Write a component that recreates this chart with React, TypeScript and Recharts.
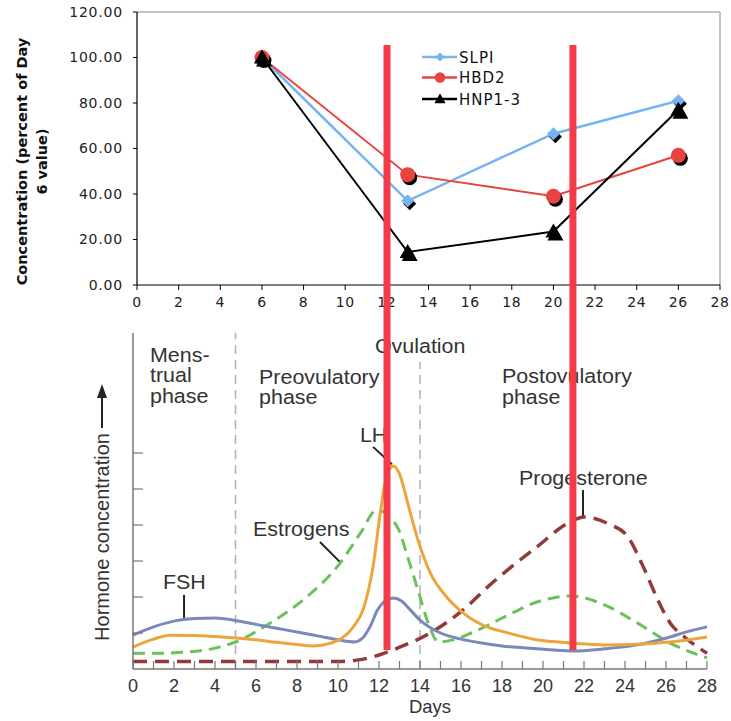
import React from 'react';
import { LineChart, Line, XAxis, YAxis, ReferenceLine, ReferenceDot, Legend } from 'recharts';

// ---------- Top chart: antimicrobial concentrations ----------
const sampleDays = [6, 13, 20, 26];
const slpiValues = [100, 37, 66.5, 81];
const hbd2Values = [100, 48.5, 39, 57];
const hnpValues = [100, 14.5, 23.5, 77];
const topDayTicks = [0, 2, 4, 6, 8, 10, 12, 14, 16, 18, 20, 22, 24, 26, 28];
const concentrationTicks = [0, 20, 40, 60, 80, 100, 120];
const seriesNames = ['SLPI', 'HBD2', 'HNP1-3'];
const seriesKeys = ['slpi', 'hbd2', 'hnp'];
const seriesColors = ['#76b4f1', '#e9423f', '#000000'];
const seriesMarkers = ['diamond', 'circle', 'triangle'];

// ---------- Bottom chart: hormone curves (relative units) ----------
const fshDays = [0, 1, 2, 3, 4, 5, 6, 7, 8, 9, 10, 10.8, 11.2, 11.6, 11.9, 12.3, 12.7, 13.1, 13.4, 14, 15, 16, 17, 18, 19.7, 21.4, 23, 24.6, 26.2, 27, 28];
const fshValues = [0.94, 1.17, 1.33, 1.4, 1.42, 1.35, 1.24, 1.13, 1.03, 0.92, 0.81, 0.75, 0.86, 1.22, 1.61, 1.89, 1.97, 1.89, 1.72, 1.36, 1.0, 0.83, 0.72, 0.64, 0.56, 0.5, 0.56, 0.67, 0.89, 1.03, 1.17];
const lhDays = [0, 1, 1.8, 3, 4, 5, 6, 7, 8, 8.8, 9.6, 10.2, 10.75, 11.25, 11.7, 12.07, 12.3, 12.7, 13.0, 13.4, 13.9, 14.5, 15.3, 16.1, 17.4, 18.1, 19.7, 21.4, 23, 24.6, 26.2, 28];
const lhValues = [0.61, 0.83, 0.94, 0.93, 0.9, 0.86, 0.81, 0.74, 0.68, 0.64, 0.71, 0.86, 1.17, 1.69, 2.81, 4.36, 5.19, 5.64, 5.42, 4.61, 3.58, 2.67, 2.0, 1.56, 1.14, 1.03, 0.81, 0.72, 0.67, 0.69, 0.75, 0.89];
const estrogenDays = [0, 1.3, 2.6, 4, 5, 6.7, 8.3, 10.1, 11.1, 11.9, 12.9, 13.4, 13.9, 14.4, 14.9, 15.6, 16.5, 18.1, 19.7, 21.4, 23, 24.6, 26.2, 28];
const estrogenValues = [0.44, 0.44, 0.47, 0.58, 0.75, 1.28, 1.92, 2.94, 3.78, 4.42, 3.94, 3.11, 2.19, 1.28, 0.75, 0.81, 1.0, 1.44, 1.86, 2.03, 1.78, 1.28, 0.72, 0.31];
const progesteroneDays = [0, 2, 4, 6, 8, 10, 11.1, 12, 12.9, 14.5, 16.1, 17.4, 18.1, 19.7, 21.3, 22, 23.2, 24.1, 24.9, 25.6, 26.2, 26.9, 28];
const progesteroneValues = [0.21, 0.21, 0.21, 0.21, 0.21, 0.21, 0.26, 0.39, 0.58, 1.0, 1.64, 2.33, 2.67, 3.39, 4.08, 4.22, 4.03, 3.7, 2.83, 1.92, 1.28, 0.89, 0.44];
const cycleDayTicks = Array.from({ length: 29 }, (_, i) => i);
const hormoneTicks = [1, 2, 3, 4, 5, 6];
const phaseBoundaryDays = [5, 14];
const redMarkerDays = [12.39, 21.46];

const phaseLabels = [
  { day: 0.83, level: 8.53, lines: ['Mens-', 'trual', 'phase'] },
  { day: 6.15, level: 7.92, lines: ['Preovulatory', 'phase'] },
  { day: 11.8, level: 8.78, lines: ['Ovulation'] },
  { day: 18.0, level: 7.94, lines: ['Postovulatory', 'phase'] },
];
const hormoneLabels = [
  { day: 11.07, level: 6.31, text: 'LH' },
  { day: 18.83, level: 5.11, text: 'Progesterone' },
  { day: 5.85, level: 3.69, text: 'Estrogens' },
  { day: 1.46, level: 2.22, text: 'FSH' },
];
const leaderLines = [
  [11.71, 6.17, 12.63, 5.69],
  [9.12, 3.53, 10.15, 2.94],
  [2.49, 2.06, 2.49, 1.42],
  [21.95, 4.97, 21.95, 4.22],
];

const topData = sampleDays.map((d, i) => ({ day: d, slpi: slpiValues[i], hbd2: hbd2Values[i], hnp: hnpValues[i] }));
const toSeries = (days: number[], vals: number[]) => days.map((d, i) => ({ day: d, v: vals[i] }));

const SANS = 'Liberation Sans, Arial, sans-serif';
const VERD = 'DejaVu Sans, Verdana, sans-serif';

function markerShape(kind: string, cx: number, cy: number, fill: string, big: boolean) {
  const s = big ? 1 : 0.7;
  if (kind === 'diamond') {
    const r = 6.5 * s;
    return <polygon points={`${cx},${cy - r} ${cx + r},${cy} ${cx},${cy + r} ${cx - r},${cy}`} fill={fill} />;
  }
  if (kind === 'circle') {
    return <circle cx={cx} cy={cy} r={7.5 * s} fill={fill} />;
  }
  return <polygon points={`${cx},${cy - 8 * s} ${cx + 8 * s},${cy + 6 * s} ${cx - 8 * s},${cy + 6 * s}`} fill={fill} />;
}

const makeDot = (kind: string, color: string) => (props: any) => {
  const { cx, cy, index } = props;
  if (cx == null || cy == null) return <g key={`e-${index}`} />;
  return (
    <g key={`${kind}-${index}`}>
      {markerShape(kind, cx + 2, cy + 3, '#000', true)}
      {markerShape(kind, cx, cy, color, true)}
    </g>
  );
};

const TopLegend = () => (
  <svg width={140} height={70}>
    {seriesNames.map((name, i) => {
      const y = 10 + i * 20.5 + (i === 2 ? 1 : 0);
      return (
        <g key={name}>
          <line x1={2} x2={37} y1={y} y2={y} stroke={seriesColors[i]} strokeWidth={2.5} />
          {markerShape(seriesMarkers[i], 20, y, seriesColors[i], false)}
          <text x={39} y={y + 5.5} fontFamily={VERD} fontSize={15} letterSpacing={1} fill="#111">{name}</text>
        </g>
      );
    })}
  </svg>
);

const ConcTitle = (props: any) => {
  const vb = props.viewBox || { x: 0, y: 12, width: 137, height: 273 };
  const cy = vb.y + vb.height / 2 + 13;
  return (
    <g fontFamily={VERD} fontWeight="bold" fontSize={14.5} fill="#111">
      <text transform={`translate(${vb.x + 22},${cy}) rotate(-90)`} textAnchor="middle" dominantBaseline="central">Concentration (percent of Day</text>
      <text transform={`translate(${vb.x + 42},${cy}) rotate(-90)`} textAnchor="middle" dominantBaseline="central">6 value)</text>
    </g>
  );
};

const HormoneTitle = (props: any) => {
  const vb = props.viewBox || { x: 0, y: 333, width: 133, height: 336 };
  const cx = vb.x + vb.width - 31;
  const top = vb.y;
  return (
    <g>
      <line x1={cx} y1={top + 95} x2={cx} y2={top + 62} stroke="#222" strokeWidth={2} />
      <path d={`M${cx - 5},${top + 65} L${cx},${top + 51} L${cx + 5},${top + 65} Z`} fill="#222" />
      <text transform={`translate(${cx},${top + vb.height / 2 + 36}) rotate(-90)`} textAnchor="middle" dominantBaseline="central" fontFamily={SANS} fontSize={20} fill="#333">Hormone concentration</text>
    </g>
  );
};

const DaysTitle = (props: any) => {
  const vb = props.viewBox || { x: 133, y: 669, width: 574, height: 52 };
  return (
    <text x={vb.x + vb.width / 2 + 10} y={vb.y + 44} textAnchor="middle" fontFamily={SANS} fontSize={18.5} fill="#333">Days</text>
  );
};

const DayTick = (props: any) => {
  const { x, y, payload } = props;
  if (payload.value % 2 !== 0) return <g />;
  return (
    <text x={x} y={y} dy={14} textAnchor="middle" fontFamily={SANS} fontSize={18} fill="#333">{payload.value}</text>
  );
};

const EmptyTick = () => <g />;

const blockText = (lines: string[]) => (props: any) => {
  const { cx, cy } = props;
  return (
    <text transform={`translate(${cx},${cy}) scale(1.1,1)`} fontFamily={SANS} fontSize={19.5} fill="#333">
      {lines.map((l, i) => (
        <tspan key={i} x={0} dy={i === 0 ? 0 : 20.5}>{l}</tspan>
      ))}
    </text>
  );
};

export default function App() {
  return (
    <div style={{ position: 'relative', width: 731, height: 721, background: '#fff', overflow: 'hidden' }}>
      <style>{'body{margin:0;}'}</style>
      <div style={{ position: 'absolute', left: 0, top: 0 }}>
        <LineChart width={731} height={330} data={topData} margin={{ top: 12, right: 11, left: 0, bottom: 0 }}>
          <XAxis dataKey="day" type="number" domain={[0, 28]} ticks={topDayTicks} interval={0} height={45}
            tickSize={5} tickMargin={7} stroke="#000" axisLine={{ stroke: '#000', strokeWidth: 1.2 }} tickLine={{ stroke: '#000' }}
            tick={{ fontFamily: VERD, fontSize: 14, fill: '#222', letterSpacing: 0.6 }} />
          <YAxis type="number" domain={[0, 120]} ticks={concentrationTicks} width={137} interval={0}
            tickFormatter={(v: number) => v.toFixed(2)} tickSize={4} tickMargin={10}
            axisLine={{ stroke: '#000', strokeWidth: 1.2 }} tickLine={{ stroke: '#000' }}
            tick={{ fontFamily: VERD, fontSize: 14, fill: '#222', letterSpacing: 0.8 }}
            label={{ content: (p: any) => <ConcTitle {...p} /> }} />
          <ReferenceLine y={120} stroke="#c4c4c4" strokeWidth={2} />
          <ReferenceLine x={28} stroke="#c4c4c4" strokeWidth={2} />
          {seriesKeys.map((k, i) => (
            <Line key={k} dataKey={k} name={seriesNames[i]} stroke={seriesColors[i]} strokeWidth={i === 0 ? 2.5 : 2}
              dot={makeDot(seriesMarkers[i], seriesColors[i])} activeDot={false} isAnimationActive={false} />
          ))}
          <Legend layout="vertical" align="center" verticalAlign="middle" content={() => <TopLegend />}
            wrapperStyle={{ position: 'absolute', left: 420, top: 47, width: 140, height: 70 }} />
        </LineChart>
      </div>
      <div style={{ position: 'absolute', left: 0, top: 0 }}>
        <LineChart width={731} height={721} margin={{ top: 333, right: 24, left: 0, bottom: 0 }}>
          <XAxis dataKey="day" type="number" domain={[0, 28]} ticks={cycleDayTicks} interval={0} height={52}
            tickSize={-8} tickMargin={17} axisLine={{ stroke: '#777', strokeWidth: 1.5 }} tickLine={{ stroke: '#777', strokeWidth: 1.2 }}
            tick={<DayTick />} label={{ content: (p: any) => <DaysTitle {...p} /> }} />
          <YAxis type="number" domain={[0, 336 / 36]} allowDataOverflow ticks={hormoneTicks} interval={0} width={133}
            tickSize={-10} axisLine={{ stroke: '#777', strokeWidth: 1.5 }} tickLine={{ stroke: '#777', strokeWidth: 1.2 }}
            tick={<EmptyTick />} label={{ content: (p: any) => <HormoneTitle {...p} /> }} />
          <ReferenceLine x={phaseBoundaryDays[0]} stroke="#b0b0b0" strokeWidth={1.5} strokeDasharray="9 6" />
          <ReferenceLine segment={[{ x: phaseBoundaryDays[1], y: 0 }, { x: phaseBoundaryDays[1], y: 8.53 }]} stroke="#b0b0b0" strokeWidth={1.5} strokeDasharray="9 6" />
          {phaseLabels.map((p, i) => (
            <ReferenceDot key={`p${i}`} x={p.day} y={p.level} r={0} shape={blockText(p.lines)} />
          ))}
          {hormoneLabels.map((p, i) => (
            <ReferenceDot key={`h${i}`} x={p.day} y={p.level} r={0} shape={blockText([p.text])} />
          ))}
          {leaderLines.map((s, i) => (
            <ReferenceLine key={`l${i}`} segment={[{ x: s[0], y: s[1] }, { x: s[2], y: s[3] }]} stroke="#222" strokeWidth={2} />
          ))}
          <Line data={toSeries(progesteroneDays, progesteroneValues)} dataKey="v" type="monotone" stroke="#933a3b" strokeWidth={3.5} strokeDasharray="14 8" dot={false} activeDot={false} isAnimationActive={false} />
          <Line data={toSeries(estrogenDays, estrogenValues)} dataKey="v" type="monotone" stroke="#6cc15c" strokeWidth={3} strokeDasharray="12 7" dot={false} activeDot={false} isAnimationActive={false} />
          <Line data={toSeries(fshDays, fshValues)} dataKey="v" type="monotone" stroke="#7c88ba" strokeWidth={3} dot={false} activeDot={false} isAnimationActive={false} />
          <Line data={toSeries(lhDays, lhValues)} dataKey="v" type="monotone" stroke="#eba53c" strokeWidth={3} dot={false} activeDot={false} isAnimationActive={false} />
          {redMarkerDays.map((d) => (
            <ReferenceLine key={`r${d}`} segment={[{ x: d, y: 0.53 }, { x: d, y: 17.33 }]} stroke="#f43b48" strokeWidth={7} ifOverflow="visible" zIndex={1000} />
          ))}
        </LineChart>
      </div>
    </div>
  );
}
